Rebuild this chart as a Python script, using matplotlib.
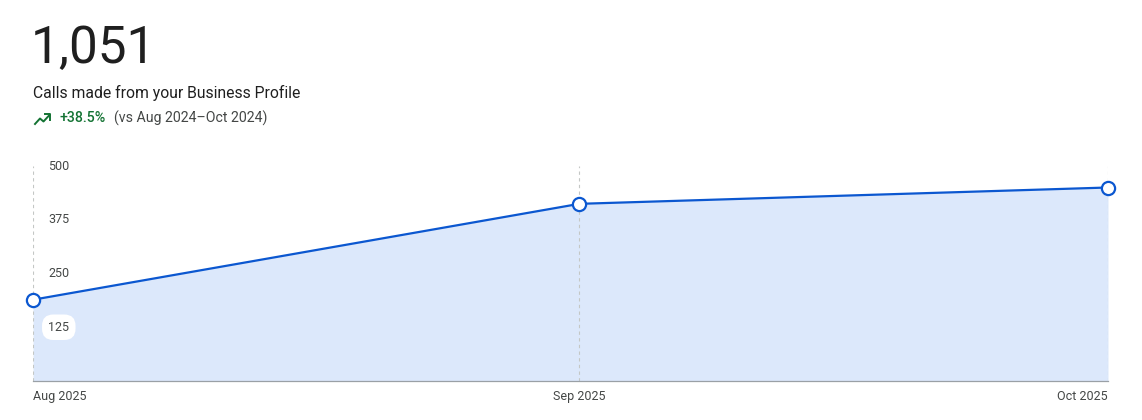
import matplotlib

matplotlib.use("Agg")

import matplotlib.pyplot as plt  # noqa: E402
from matplotlib.lines import Line2D  # noqa: E402

BLUE = "#0b57d0"
FILL = "#dce8fb"
GREEN = "#137333"
TEXT = "#1f1f1f"
MUTED = "#444746"
GRID = "#c4c7c5"

months = ["Aug 2025", "Sep 2025", "Oct 2025"]
days = [0, 31, 61]  # days since 1 Aug 2025
calls = [189, 412, 450]
yticks = [125, 250, 375, 500]
total = "1,051"
change = "+38.5%"
compare = "(vs Aug 2024\u2013Oct 2024)"

plt.rcParams["font.family"] = ["Roboto", "DejaVu Sans"]

W, H = 1142, 420
fig = plt.figure(figsize=(W / 100, H / 100), dpi=100)


def px(x, y):
    return x / W, 1 - y / H


ax = fig.add_axes([33 / W, 39 / H, (1108 - 33) / W, (381 - 166) / H])
ax.fill_between(days, calls, 0, color=FILL, linewidth=0, zorder=1)
ax.plot(days, calls, color=BLUE, linewidth=1.6, zorder=3, clip_on=False)
ax.plot(days, calls, "o", markersize=9.5, markerfacecolor="white",
        markeredgecolor=BLUE, markeredgewidth=1.6, zorder=4, clip_on=False)
for d in days:
    ax.axvline(d, color=GRID, linewidth=0.8, linestyle=(0, (3, 3)), zorder=2)

ax.set_xlim(days[0], days[-1])
ax.set_ylim(0, 500)
for s in ["top", "left", "right"]:
    ax.spines[s].set_visible(False)
ax.spines["bottom"].set_color("#9aa0a6")
ax.spines["bottom"].set_linewidth(0.9)
ax.set_yticks([])
ax.set_xticks([])

for v in yticks:
    ax.annotate(str(v), (0, v), xytext=(11, 0), textcoords="offset points",
                ha="left", va="center", fontsize=9, color=MUTED, zorder=5,
                bbox=dict(boxstyle="round,pad=0.5,rounding_size=0.9",
                          fc="white", ec="none"))

aligns = ["left", "center", "right"]
for d, lab, al in zip(days, months, aligns):
    ax.annotate(lab, (d, 0), xytext=(0, -11), textcoords="offset points",
                ha=al, va="center", fontsize=9, color=MUTED)

fig.text(*px(31, 49), total, fontsize=37, color=TEXT, va="center", ha="left")
fig.text(*px(33, 93), "Calls made from your Business Profile", fontsize=11.3,
         color=TEXT, va="center", ha="left")
fig.text(*px(60, 118), change, fontsize=10.2, color=GREEN, fontweight="medium",
         va="center", ha="left")
fig.text(*px(114, 118), compare, fontsize=10.2, color=MUTED, va="center",
         ha="left")

# trending_up icon
pts = [(35, 124), (40, 118.5), (43.5, 121.5), (49.5, 115)]
fig.add_artist(Line2D([px(*p)[0] for p in pts], [px(*p)[1] for p in pts],
                      color=GREEN, linewidth=1.4))
head = [(45, 114.5), (50, 114.5), (50, 119.5)]
fig.add_artist(Line2D([px(*p)[0] for p in head], [px(*p)[1] for p in head],
                      color=GREEN, linewidth=1.4))

fig.savefig("out.png", dpi=100)
